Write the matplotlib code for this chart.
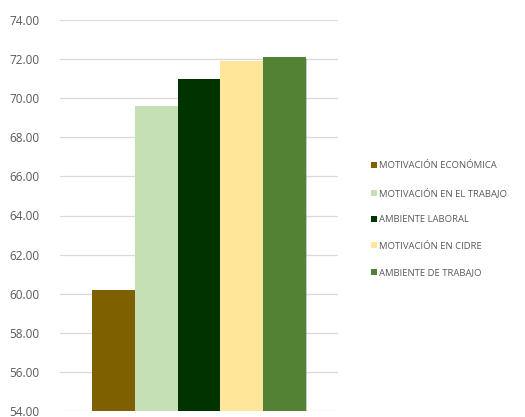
import matplotlib.pyplot as plt
import matplotlib.patheffects as pe
from matplotlib.patches import Patch

categories = ['MOTIVACIÓN ECONÓMICA', 'MOTIVACIÓN EN EL TRABAJO', 'AMBIENTE LABORAL',
              'MOTIVACIÓN EN CIDRE', 'AMBIENTE DE TRABAJO']
values = [60.20, 69.62, 70.96, 71.92, 72.09]
colors = ['#7F6000', '#C5E0B4', '#003300', '#FFE699', '#548235']
yticks = [54, 56, 58, 60, 62, 64, 66, 68, 70, 72, 74]

fig = plt.figure(figsize=(5.25, 4.17), dpi=100)
ax = fig.add_axes([60 / 525, 6 / 417, 278 / 525, 391 / 417])

x = list(range(len(values)))
bars = ax.bar(x, values, width=1.0, color=colors, zorder=3)
for b in bars:
    b.set_path_effects([pe.SimplePatchShadow(offset=(1, -1), alpha=0.25), pe.Normal()])

ax.set_ylim(54, 74)
ax.set_xlim(-0.5 - 0.76, 4.5 + 0.76)
ax.set_yticks(yticks)
ax.set_yticklabels([f'{v:.2f}' for v in yticks])
ax.set_xticks([])
ax.grid(axis='y', color='#D9D9D9', linewidth=0.9, zorder=0)
for s in ax.spines.values():
    s.set_visible(False)
ax.tick_params(axis='y', length=0, pad=15, labelsize=8.5, labelcolor='#595959')
for lbl in ax.get_yticklabels():
    lbl.set_fontfamily('Open Sans')

handles = [Patch(facecolor=c, label=l) for c, l in zip(colors, categories)]
fig.legend(handles=handles, loc='upper left', bbox_to_anchor=(362 / 525, 1 - 153 / 417),
           frameon=False, handlelength=0.7, handleheight=0.6,
           handletextpad=0.2, labelspacing=1.85, labelcolor='#595959',
           prop={'family': 'Open Sans', 'size': 6.8})

fig.savefig('out.png', dpi=100)
